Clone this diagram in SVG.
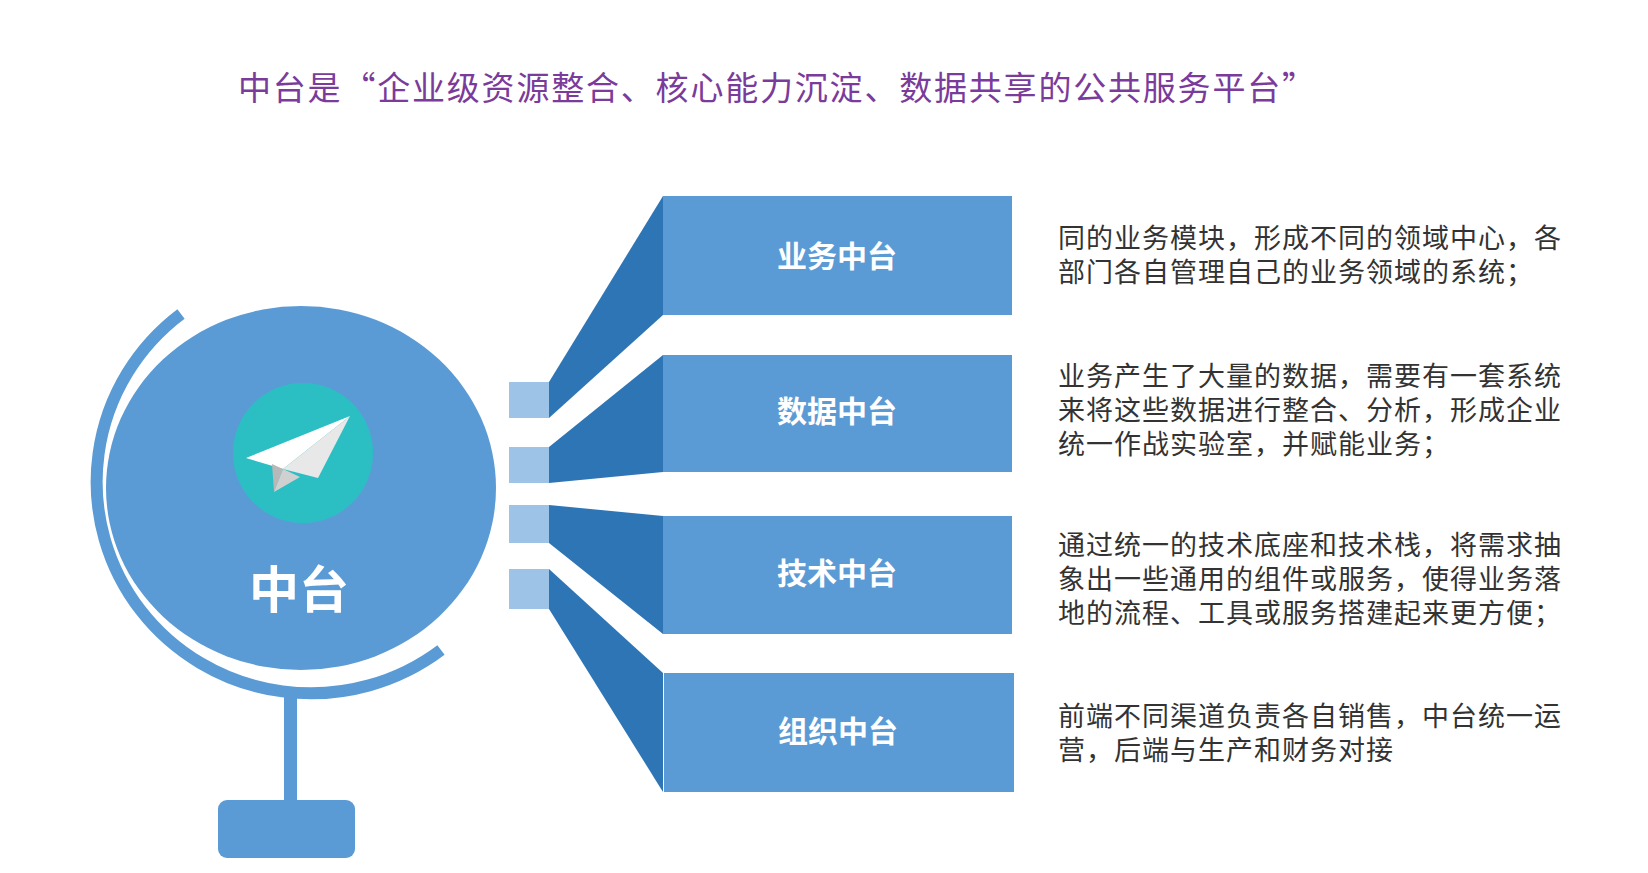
<svg xmlns="http://www.w3.org/2000/svg" width="1648" height="873" viewBox="0 0 1648 873">
<style>
.cn{font-family:"Noto Sans CJK SC","Noto Sans",sans-serif}
.lbl{font-size:30px;font-weight:bold;fill:#fff;text-anchor:middle;dominant-baseline:central}
.desc{font-size:27px;fill:#333;letter-spacing:1px}
.box{fill:#5b9bd5}.dark{fill:#2e75b6}.sq{fill:#9dc3e6}
</style>
<rect width="1648" height="873" fill="#fff"/>
<text class="cn" x="238" y="100" font-size="33" fill="#7a3b9b" letter-spacing="1.8">中台是“企业级资源整合、核心能力沉淀、数据共享的公共服务平台”</text>
<g id="globe">
<path d="M181,314 A210,207 0 1 0 441,650" fill="none" stroke="#5b9bd5" stroke-width="12"/>
<rect x="284" y="695" width="13" height="110" fill="#5b9bd5"/>
<rect x="218" y="800" width="137" height="58" rx="9" fill="#5b9bd5"/>
<ellipse cx="301" cy="488" rx="195" ry="182" fill="#5b9bd5"/>
<circle cx="303" cy="453" r="70" fill="#2bbfc4"/>
<polygon points="246,458 350,416 283,469" fill="#fff"/>
<polygon points="283,469 350,416 318,478" fill="#e8e8e8"/>
<polygon points="272,464 283,469 274,492" fill="#b8b8b8"/>
<polygon points="283,469 300,477 274,492" fill="#d0d0d0"/>
<text class="cn" x="299" y="586" font-size="50" font-weight="bold" fill="#fff" text-anchor="middle" dominant-baseline="central">中台</text>
</g>
<g id="connectors">
<polygon class="dark" points="549,382 663,196 663,315 549,418"/>
<polygon class="dark" points="549,447 663,355 663,472 549,483"/>
<polygon class="dark" points="549,505 663,516 663,634 549,543"/>
<polygon class="dark" points="549,569 663,673 663,792 549,609"/>
<rect class="sq" x="509" y="382" width="40" height="36"/>
<rect class="sq" x="509" y="447" width="40" height="36"/>
<rect class="sq" x="509" y="505" width="40" height="38"/>
<rect class="sq" x="509" y="569" width="40" height="40"/>
</g>
<g id="n1"><rect class="box" x="663" y="196" width="349" height="119"/><text class="cn lbl" x="837" y="254">业务中台</text>
<text class="cn desc" x="1058" y="248">同的业务模块，形成不同的领域中心，各</text><text class="cn desc" x="1058" y="282">部门各自管理自己的业务领域的系统；</text></g>
<g id="n2"><rect class="box" x="663" y="355" width="349" height="117"/><text class="cn lbl" x="837" y="409">数据中台</text>
<text class="cn desc" x="1058" y="386">业务产生了大量的数据，需要有一套系统</text><text class="cn desc" x="1058" y="420">来将这些数据进行整合、分析，形成企业</text><text class="cn desc" x="1058" y="454">统一作战实验室，并赋能业务；</text></g>
<g id="n3"><rect class="box" x="663" y="516" width="349" height="118"/><text class="cn lbl" x="837" y="571">技术中台</text>
<text class="cn desc" x="1058" y="555">通过统一的技术底座和技术栈，将需求抽</text><text class="cn desc" x="1058" y="589">象出一些通用的组件或服务，使得业务落</text><text class="cn desc" x="1058" y="623">地的流程、工具或服务搭建起来更方便；</text></g>
<g id="n4"><rect class="box" x="664" y="673" width="350" height="119"/><text class="cn lbl" x="838" y="729">组织中台</text>
<text class="cn desc" x="1058" y="726">前端不同渠道负责各自销售，中台统一运</text><text class="cn desc" x="1058" y="760">营，后端与生产和财务对接</text></g>
</svg>
